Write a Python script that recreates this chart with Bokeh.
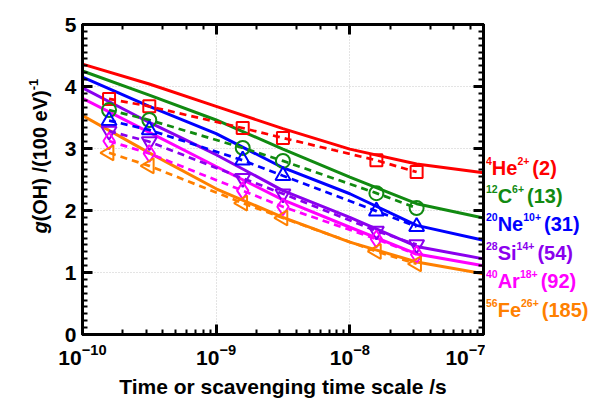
import math
from bokeh.plotting import figure
from bokeh.layouts import row
from bokeh.models import (LogAxis, LinearAxis, SingleIntervalTicker, LogTicker,
                          CustomJSTickFormatter, Range1d)
from bokeh.core.properties import value
from bokeh.embed import file_html
from bokeh.resources import INLINE

# ---------------- data ----------------
time_pts = [1.58e-10, 3.16e-10, 1.58e-9, 3.16e-9, 1.58e-8, 3.16e-8]
time_model = [1e-10, 3.16e-10, 1e-9, 3.16e-9, 1e-8, 3.16e-8, 1e-7]

ion_mass = ["4", "12", "20", "28", "40", "56"]
ion_symbol = ["He", "C", "Ne", "Si", "Ar", "Fe"]
ion_charge = ["2+", "6+", "10+", "14+", "18+", "26+"]
ion_let = ["(2)", "(13)", "(31)", "(54)", "(92)", "(185)"]

g_he = [3.80, 3.68, 3.33, 3.17, 2.81, 2.62]
g_c = [3.62, 3.46, 3.01, 2.80, 2.28, 2.04]
g_ne = [3.45, 3.30, 2.81, 2.56, 1.99, 1.74]
g_si = [3.28, 3.11, 2.52, 2.27, 1.67, 1.45]
g_ar = [3.12, 2.92, 2.32, 2.06, 1.54, 1.29]
g_fe = [2.93, 2.72, 2.12, 1.88, 1.34, 1.14]

m_he = [4.36, 4.04, 3.68, 3.32, 2.99, 2.75, 2.61]
m_c = [4.25, 3.86, 3.46, 2.99, 2.54, 2.11, 1.88]
m_ne = [4.15, 3.68, 3.24, 2.69, 2.27, 1.76, 1.52]
m_si = [3.98, 3.42, 2.90, 2.32, 1.89, 1.42, 1.22]
m_ar = [3.81, 3.26, 2.71, 2.17, 1.73, 1.30, 1.11]
m_fe = [3.53, 2.93, 2.35, 1.89, 1.49, 1.17, 0.98]

measured = [g_he, g_c, g_ne, g_si, g_ar, g_fe]
model = [m_he, m_c, m_ne, m_si, m_ar, m_fe]

# ---------------- style ----------------
colors = ["#ff0000", "#118a11", "#0000ff", "#8a00ee", "#ff00ff", "#ff8000"]
markers = ["square", "circle", "triangle", "inverted_triangle", "diamond", "triangle"]
marker_angles = [0, 0, 0, 0, 0, math.pi / 2]
marker_sizes = [12, 14, 15, 15, 17, 15]
label_baseline_y = [2.53, 2.08, 1.63, 1.16, 0.71, 0.24]

FONT = "Liberation Sans"
W = {"0": .556, "1": .556, "2": .556, "3": .556, "4": .556, "5": .556, "6": .556,
     "7": .556, "8": .556, "9": .556, "+": .584, "-": .333, "(": .333, ")": .333,
     "H": .722, "e": .556, "C": .722, "N": .722, "S": .667, "i": .278, "A": .722,
     "r": .389, "F": .611, " ": .278, "O": .778, "/": .278, "V": .667}
BASE_SHIFT = 0.47  # renderer places the alphabetic baseline this many em below the anchor


def tw(s, size):
    return sum(W.get(c, .6) for c in s) * size


TOP, BOTTOM = 24, 69
HEIGHT = 403
LEFT_W, RIGHT_W = 56, 104
MAIN_W = 589 - LEFT_W - RIGHT_W
PX_PER_UNIT = (HEIGHT - TOP - BOTTOM) / 5.0

p = figure(width=MAIN_W, height=HEIGHT, x_axis_type="log",
           x_range=(1e-10, 1e-7), y_range=(0, 5),
           output_backend="svg", toolbar_location=None,
           min_border_left=82 - LEFT_W, min_border_right=2,
           min_border_top=TOP, min_border_bottom=BOTTOM)
p.background_fill_color = "white"
p.border_fill_color = "white"
p.outline_line_color = "black"
p.outline_line_width = 3

for g in (p.xgrid, p.ygrid):
    g.grid_line_color = "#c8c8c8"
    g.grid_line_dash = "1 2"
    g.grid_line_width = 1

yticker = SingleIntervalTicker(interval=1, num_minor_ticks=9)
p.yaxis.ticker = yticker
p.ygrid.ticker = yticker


def style_axis(ax):
    ax.axis_line_width = 3
    ax.axis_line_color = "black"
    ax.major_tick_in = 10
    ax.major_tick_out = 0
    ax.minor_tick_in = 5
    ax.minor_tick_out = 0
    ax.major_tick_line_width = 3
    ax.minor_tick_line_width = 2
    ax.major_tick_line_color = "black"
    ax.minor_tick_line_color = "black"
    ax.major_label_text_font = FONT
    ax.major_label_text_font_style = "bold"
    ax.major_label_text_font_size = "21px"
    ax.major_label_text_color = "black"


style_axis(p.xaxis[0])
style_axis(p.yaxis[0])
p.yaxis.major_label_standoff = 6
p.xaxis.major_label_standoff = 9
p.xaxis.axis_label = "Time or scavenging time scale /s"
p.xaxis.axis_label_text_font = FONT
p.xaxis.axis_label_text_font_style = "bold"
p.xaxis.axis_label_text_font_size = "21px"
p.xaxis.axis_label_text_color = "black"
p.xaxis.axis_label_standoff = 7

top_ax = LogAxis(ticker=LogTicker(), formatter=CustomJSTickFormatter(code="return ''"))
style_axis(top_ax)
right_ax = LinearAxis(ticker=yticker, formatter=CustomJSTickFormatter(code="return ''"))
style_axis(right_ax)
top_ax.major_label_standoff = 0
right_ax.major_label_standoff = 0
p.add_layout(top_ax, "above")
p.add_layout(right_ax, "right")

# model curves
for ys, c in zip(model, colors):
    p.line(time_model, ys, line_color=c, line_width=3)

# measured (dashed + open markers)
for ys, c, mk, ang, sz in zip(measured, colors, markers, marker_angles, marker_sizes):
    p.line(time_pts, ys, line_color=c, line_width=2.7, line_dash="7 5")
    p.scatter(time_pts, ys, marker=mk, angle=ang, size=sz, line_color=c,
              line_width=2, fill_color=None)


def side_fig(width, xr):
    f = figure(width=width, height=HEIGHT, x_range=xr, y_range=p.y_range,
               output_backend="svg", toolbar_location=None,
               x_axis_location=None, y_axis_location=None,
               min_border_left=0, min_border_right=0,
               min_border_top=TOP, min_border_bottom=BOTTOM)
    f.xgrid.visible = False
    f.ygrid.visible = False
    f.outline_line_color = None
    f.background_fill_color = "white"
    f.border_fill_color = "white"
    return f


# right-hand ion labels (x measured in px from the main frame's right edge)
rf = side_fig(RIGHT_W, Range1d(2, 2 + RIGHT_W))
SUP = 10.5
BIG = 20
SUP_RAISE = 12
for m, s, q, let_, c, yb in zip(ion_mass, ion_symbol, ion_charge, ion_let, colors, label_baseline_y):
    x0 = 2.5
    x1 = x0 + tw(m, SUP)
    x2 = x1 + tw(s, BIG)
    x3 = x2 + tw(q, SUP) + 3
    y_big = yb + BASE_SHIFT * BIG / PX_PER_UNIT
    y_sup = yb + (SUP_RAISE + BASE_SHIFT * SUP) / PX_PER_UNIT
    pieces = [(m, SUP, y_sup, x0), (s, BIG, y_big, x1),
              (q, SUP, y_sup, x2), (let_, BIG, y_big, x3)]
    for txt, size, yy, xx in pieces:
        rf.text(x=[xx], y=[yy], text=[txt], text_font=value(FONT),
                text_font_style=value("bold"), text_font_size=value(f"{size}px"),
                text_color=c, text_align=value("left"),
                text_baseline=value("alphabetic"))

# left y-axis title (rotated, italic g, superscript -1)
lf = side_fig(LEFT_W, Range1d(0, LEFT_W))
ylab_y0 = 1.63
ylab_base = 49
g_w = tw("g", 20)
main_txt = "(OH) /(100 eV)"
parts = [("g", "bold italic", 20, ylab_base - BASE_SHIFT * 20, ylab_y0),
         (main_txt, "bold", 20, ylab_base - BASE_SHIFT * 20, ylab_y0 + g_w / PX_PER_UNIT),
         ("-1", "bold", 13, ylab_base - 10 - BASE_SHIFT * 13,
          ylab_y0 + (g_w + tw(main_txt, 20)) / PX_PER_UNIT)]
for txt, style, size, xx, yy in parts:
    lf.text(x=[xx], y=[yy], text=[txt], angle=math.pi / 2,
            text_font=value(FONT), text_font_style=value(style),
            text_font_size=value(f"{size}px"), text_color="black",
            text_align=value("left"), text_baseline=value("alphabetic"))

layout = row(lf, p, rf, spacing=0)
open("out.html", "w").write(file_html(layout, INLINE))
